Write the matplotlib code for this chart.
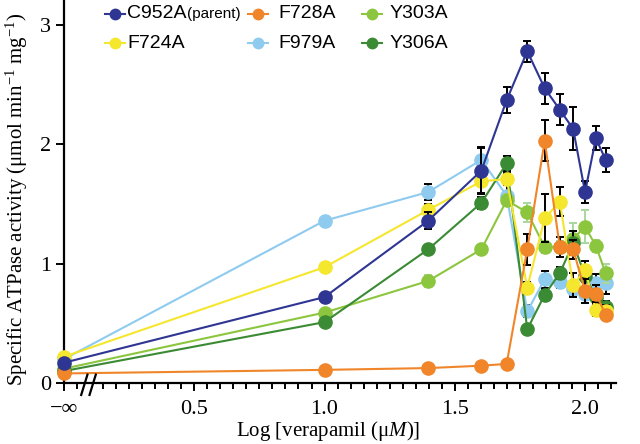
import numpy as np
import matplotlib
matplotlib.use("Agg")
import matplotlib.pyplot as plt
from matplotlib.lines import Line2D

plt.rcParams['font.family'] = ['Liberation Serif', 'DejaVu Serif']
plt.rcParams['mathtext.fontset'] = 'custom'
plt.rcParams['mathtext.rm'] = 'Liberation Serif'
plt.rcParams['mathtext.it'] = 'Liberation Serif:italic'

# verapamil concentrations (uM); 0 is drawn at the "-inf" position
conc = [0, 10, 25, 40, 50, 60, 70, 80, 90, 100, 110, 120]

names = ["C952A", "F724A", "F728A", "F979A", "Y303A", "Y306A"]
colors = ["#2e3592", "#f5e62e", "#f0852a", "#8ecbee", "#8cc63f", "#3b8a34"]

c952a = [0.17, 0.72, 1.36, 1.78, 2.37, 2.78, 2.47, 2.29, 2.13, 1.60, 2.05, 1.87]
c952a_err = [0, 0, 0.07, 0.2, 0.11, 0.09, 0.13, 0.13, 0.18, 0.09, 0.1, 0.1]
f724a = [0.22, 0.97, 1.45, 1.69, 1.71, 0.80, 1.38, 1.52, 0.82, 0.95, 0.61, 0.60]
f724a_err = [0, 0, 0.05, 0.1, 0.05, 0.05, 0.2, 0.12, 0.1, 0.07, 0.05, 0.05]
f728a = [0.08, 0.11, 0.125, 0.145, 0.16, 1.12, 2.03, 1.14, 1.12, 0.77, 0.75, 0.57]
f728a_err = [0, 0, 0, 0, 0, 0.13, 0.17, 0.08, 0.08, 0.1, 0.07, 0.04]
f979a = [0.20, 1.36, 1.60, 1.87, 1.57, 0.60, 0.87, 0.85, 0.79, 0.75, 0.84, 0.84]
f979a_err = [0, 0, 0.07, 0.1, 0.09, 0.05, 0.07, 0.05, 0.06, 0.05, 0.07, 0.09]
y303a = [0.12, 0.59, 0.855, 1.12, 1.53, 1.43, 1.14, 1.14, 1.21, 1.31, 1.15, 0.92]
y303a_err = [0, 0, 0.05, 0, 0.05, 0.08, 0.05, 0.05, 0.13, 0.14, 0.05, 0.08]
y306a = [0.10, 0.51, 1.12, 1.51, 1.84, 0.45, 0.74, 0.92, 1.17, 0.90, 0.72, 0.64]
y306a_err = [0, 0, 0, 0.05, 0.06, 0.04, 0.05, 0.05, 0.1, 0.05, 0.05, 0.05]

values = [c952a, f724a, f728a, f979a, y303a, y306a]
errors = [c952a_err, f724a_err, f728a_err, f979a_err, y303a_err, y306a_err]
err_colors = ["k", "k", "k", "k", "#a9d79c", "k"]
# drawing order (bottom -> top)
order = [3, 4, 5, 1, 2, 0]

c = np.array(conc, dtype=float)
x = np.zeros_like(c)
x[c > 0] = np.log10(c[c > 0])

fig = plt.figure(figsize=(6.4, 4.44), dpi=100)
ax = fig.add_axes([0.1, 0.1374, 0.863, 0.86])

for k, i in enumerate(order):
    z = 3 + k
    ax.errorbar(x, values[i], yerr=errors[i], fmt='none', ecolor=err_colors[i],
                elinewidth=1.4, capsize=3, capthick=1.4, zorder=z, clip_on=False)
    ax.plot(x, values[i], '-o', color=colors[i], lw=1.5, ms=9.5,
            zorder=z + 0.5, clip_on=False)

ax.set_xlim(0, 2.12)
ax.set_ylim(0, 3.2)
ax.set_xticks([0, 0.5, 1.0, 1.5, 2.0])
ax.set_xticklabels(["\u2212\u221e", "0.5", "1.0", "1.5", "2.0"])
minor = [t for t in np.arange(0.05, 2.12, 0.05) if abs(t - 0.1) > 0.01]
ax.set_xticks(minor, minor=True)
ax.set_yticks([0, 1, 2, 3])
ax.tick_params(axis='both', which='major', labelsize=16, length=6, width=1.4, direction='out')
ax.tick_params(axis='x', which='major', pad=6)
ax.tick_params(axis='x', which='minor', length=4, width=1.4, direction='out')
for s in ['top', 'right']:
    ax.spines[s].set_visible(False)
for s in ['left', 'bottom']:
    ax.spines[s].set_linewidth(1.6)

# axis break marks
for bx in [0.078, 0.11]:
    ax.plot([bx - 0.012, bx + 0.012], [-0.1, 0.07], color='k', lw=1.6,
            clip_on=False, zorder=20)

ax.set_xlabel("Log [verapamil (\u03bc$\\mathit{M}$)]", fontsize=15)
ax.xaxis.set_label_coords(0.478, -0.095)
ax.set_ylabel("Specific ATPase activity (\u03bcmol min$^{-1}$ mg$^{-1}$)", fontsize=15)
ax.yaxis.set_label_coords(-0.062, 0.48)

# legend, laid out as in the figure (2 rows x 3 columns)
leg_mx = [115, 115, 258, 258, 372, 372]
leg_tx = [127, 127, 278, 278, 390, 390]
leg_y = [14, 43, 14, 43, 14, 43]
W, H = 640.0, 444.0
for i in range(6):
    yy = 1 - leg_y[i] / H
    fig.add_artist(Line2D([(leg_mx[i] - 10) / W, (leg_mx[i] + 10) / W], [yy, yy],
                          color=colors[i], lw=1.5))
    fig.add_artist(Line2D([leg_mx[i] / W], [yy], marker='o', ms=7.5,
                          color=colors[i], lw=0))
    t = fig.text(leg_tx[i] / W, yy, names[i], fontsize=14, va='center',
                 family=['Liberation Sans', 'DejaVu Sans'])
    if i == 0:
        ax.annotate("(parent)", xy=(1, 0.08), xycoords=t, fontsize=11,
                    va='bottom', ha='left', family=['Liberation Sans', 'DejaVu Sans'])

fig.savefig("out.png", dpi=100)
